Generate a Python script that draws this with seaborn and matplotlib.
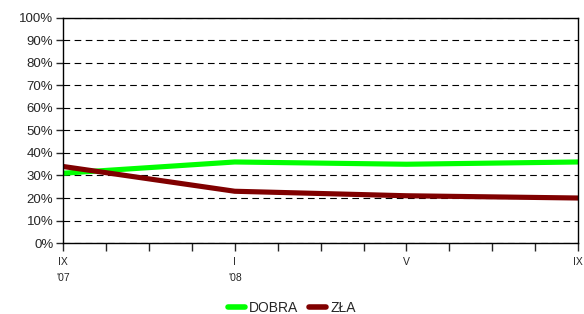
import numpy as np
import matplotlib.pyplot as plt
import pandas as pd
import seaborn as sns
from matplotlib.ticker import MultipleLocator, PercentFormatter
from matplotlib.lines import Line2D

# months from IX '07 (0) to IX '08 (12)
months = [0, 4, 8, 12]
dobra = [31, 36, 35, 36]
zla = [34, 23, 21, 20]
tick_pos = [0, 4, 8, 12]
tick_labels = ["IX\n'07", "I\n'08", "V", "IX"]

df = pd.DataFrame({
    'month': months * 2,
    'value': dobra + zla,
    'series': ['DOBRA'] * 4 + ['ZŁA'] * 4,
})

sns.set_style('white')
plt.rcParams['font.family'] = ['Liberation Sans', 'DejaVu Sans']

fig = plt.figure(figsize=(5.84, 3.14), dpi=100)
ax = fig.add_axes([0.108, 0.226, 0.882, 0.717])

sns.lineplot(data=df, x='month', y='value', hue='series',
             palette={'DOBRA': '#00ff00', 'ZŁA': '#800000'},
             linewidth=3.7, ax=ax, legend=False)

ax.set_xlim(0, 12)
ax.set_ylim(0, 100)
ax.yaxis.set_major_locator(MultipleLocator(10))
ax.yaxis.set_major_formatter(PercentFormatter(decimals=0))
ax.set_xticks(tick_pos)
ax.set_xticklabels(tick_labels, fontsize=7.5, ha='center', linespacing=1.7)
ax.xaxis.set_minor_locator(MultipleLocator(1))
ax.tick_params(axis='y', labelsize=9.5, direction='out', length=5, width=1, left=True, pad=2)
ax.tick_params(axis='x', which='both', direction='out', length=6, width=1, bottom=True, pad=4)
ax.set_xlabel('')
ax.set_ylabel('')

ax.grid(axis='y', color='black', linestyle=(0, (6, 4)), linewidth=0.8)
ax.set_axisbelow(True)
for s in ax.spines.values():
    s.set_color('black')
    s.set_linewidth(1)

handles = [Line2D([], [], color='#00ff00', lw=4), Line2D([], [], color='#800000', lw=4)]
fig.legend(handles, ['DOBRA', 'ZŁA'], loc='center', bbox_to_anchor=(0.5, 0.018),
           ncol=2, frameon=False, fontsize=10, handlelength=1.2, handletextpad=0.3,
           columnspacing=0.8)

fig.savefig('out.png', dpi=100)
